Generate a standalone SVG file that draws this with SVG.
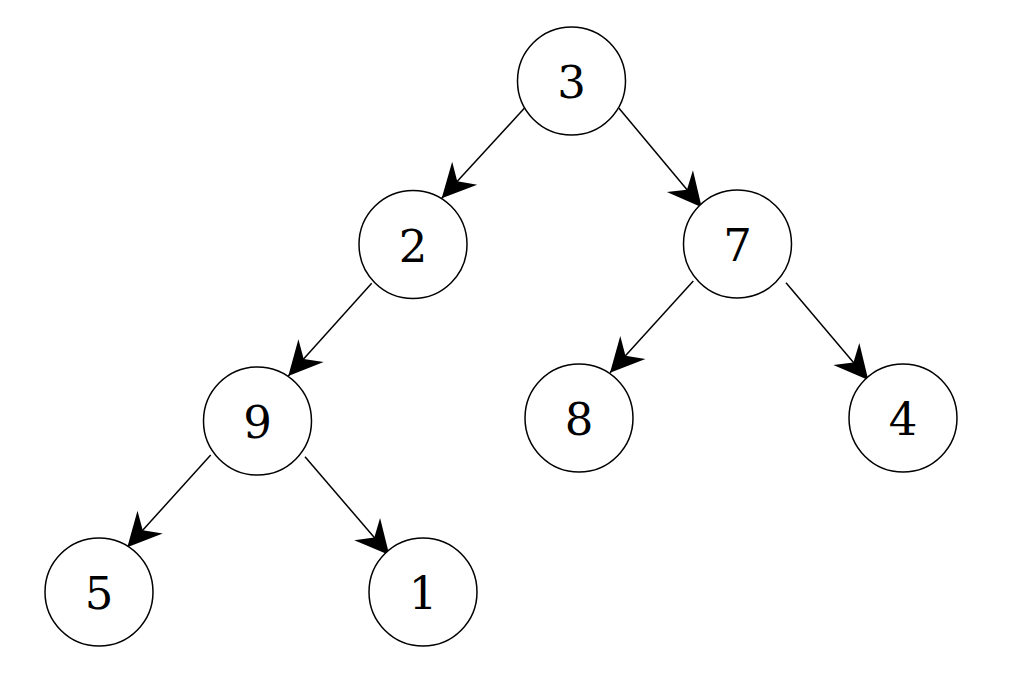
<svg xmlns="http://www.w3.org/2000/svg" width="1014" height="698" viewBox="0 0 1014 698">
<defs>
<style>
.node circle{fill:#fff;stroke:#000;stroke-width:1.5}
.node text{font-family:"DejaVu Serif",serif;font-size:45px;fill:#000;text-anchor:middle}
.edge{stroke:#000;stroke-width:1.5;fill:none;marker-end:url(#arr)}
</style>
<marker id="arr" markerUnits="userSpaceOnUse" viewBox="-40 -20 42 40" markerWidth="42" markerHeight="40" refX="0" refY="0" orient="auto">
<path d="M0,0 L-34,-17 L-23,0 L-34,17 Z" fill="#000"/>
</marker>
</defs>
<rect width="1014" height="698" fill="#fff"/>
<g id="connectors">
<line class="edge" x1="524.3" y1="108.3" x2="441.7" y2="198.3"/>
<line class="edge" x1="619" y1="108.3" x2="701.7" y2="207.3"/>
<line class="edge" x1="371.7" y1="283.3" x2="288.3" y2="376"/>
<line class="edge" x1="693.3" y1="281" x2="610" y2="372.7"/>
<line class="edge" x1="786" y1="282.7" x2="868.3" y2="380"/>
<line class="edge" x1="210.7" y1="455" x2="127.3" y2="547.3"/>
<line class="edge" x1="305" y1="456.7" x2="389.3" y2="555"/>
</g>
<g id="n3" class="node"><circle cx="571.5" cy="81" r="54"/><text x="571.5" y="98">3</text></g>
<g id="n2" class="node"><circle cx="413" cy="244.5" r="54"/><text x="413" y="261.5">2</text></g>
<g id="n7" class="node"><circle cx="737.5" cy="244" r="54"/><text x="737.5" y="261">7</text></g>
<g id="n9" class="node"><circle cx="257.5" cy="421" r="54"/><text x="257.5" y="438">9</text></g>
<g id="n8" class="node"><circle cx="579" cy="418" r="54"/><text x="579" y="435">8</text></g>
<g id="n4" class="node"><circle cx="903" cy="418" r="54"/><text x="903" y="435">4</text></g>
<g id="n5" class="node"><circle cx="99" cy="592" r="54"/><text x="99" y="609">5</text></g>
<g id="n1" class="node"><circle cx="423" cy="592" r="54"/><text x="423" y="609">1</text></g>
</svg>
